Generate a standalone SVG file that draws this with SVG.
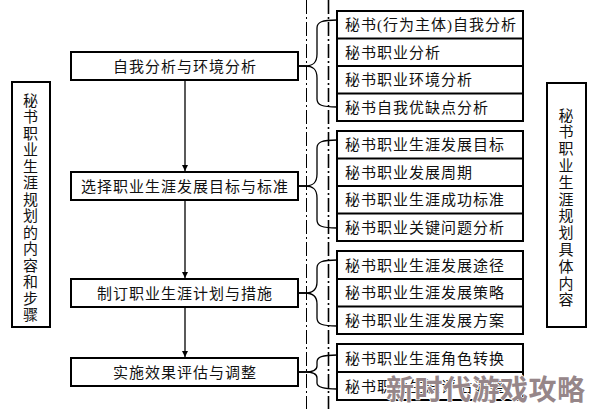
<svg xmlns="http://www.w3.org/2000/svg" width="594" height="409" viewBox="0 0 594 409">
<style>
.box{fill:#fff;stroke:#000;stroke-width:2}
.sep{stroke:#000;stroke-width:2}
.t{font-family:"Liberation Serif","Noto Sans CJK SC",serif;font-size:15px;fill:#111;letter-spacing:1px}
.c{text-anchor:middle}
.ln{fill:none;stroke:#000;stroke-width:1.3}
.dd{stroke:#000;fill:none;stroke-dasharray:14 3 2 3}
.wm{font-family:"Noto Sans CJK SC","DejaVu Sans",sans-serif;font-size:28px;font-weight:bold;fill:#968689;stroke:#fff;stroke-width:1.5;paint-order:stroke;letter-spacing:0.5px}
</style>
<defs>
<marker id="ah" viewBox="0 0 6 12" refX="6" refY="6" markerWidth="6" markerHeight="12" markerUnits="userSpaceOnUse" orient="auto">
<path d="M0,3 L6,6 L0,9 Z" fill="#000"/>
</marker>
</defs>
<rect width="594" height="409" fill="#fff"/>
<g id="guides">
<line class="dd" x1="306.5" y1="0" x2="306.5" y2="409" stroke-width="1"/>
<line class="dd" x1="328.5" y1="0" x2="328.5" y2="409" stroke-width="1.6"/>
</g>
<g id="connectors">
<line class="ln" x1="185" y1="80" x2="185" y2="171" marker-end="url(#ah)"/>
<line class="ln" x1="185" y1="200" x2="185" y2="278" marker-end="url(#ah)"/>
<line class="ln" x1="185" y1="307" x2="185" y2="357" marker-end="url(#ah)"/>
<path class="ln" d="M298,66 H305 C313,66 317,63 317,54 V28 C317,22 322,20 337,20"/>
<path class="ln" d="M298,66 H305 C313,66 317,69 317,78 V99 C317,105 322,107 337,107"/>
<path class="ln" d="M298,186 H305 C313,186 317,183 317,174 V148 C317,142 322,140 337,140"/>
<path class="ln" d="M298,186 H305 C313,186 317,189 317,198 V220 C317,226 322,228 337,228"/>
<path class="ln" d="M298,293 H305 C313,293 317,290 317,282 V268 C317,262 322,260 337,260"/>
<path class="ln" d="M298,293 H305 C313,293 317,296 317,304 V318 C317,324 322,326 337,326"/>
<path class="ln" d="M298,372 H305 C313,372 317,370 317,366 V362 C317,357 322,355 337,355"/>
<path class="ln" d="M298,372 H305 C313,372 317,374 317,378 V383 C317,387 322,389 337,389"/>
</g>
<g id="left-title">
<rect class="box" x="12" y="82" width="38" height="245"/>
<text class="t c" x="31" y="105.5"><tspan x="31">秘</tspan><tspan x="31" dy="16.5">书</tspan><tspan x="31" dy="16.5">职</tspan><tspan x="31" dy="16.5">业</tspan><tspan x="31" dy="16.5">生</tspan><tspan x="31" dy="16.5">涯</tspan><tspan x="31" dy="16.5">规</tspan><tspan x="31" dy="16.5">划</tspan><tspan x="31" dy="16.5">的</tspan><tspan x="31" dy="16.5">内</tspan><tspan x="31" dy="16.5">容</tspan><tspan x="31" dy="16.5">和</tspan><tspan x="31" dy="16.5">步</tspan><tspan x="31" dy="16.5">骤</tspan></text>
</g>
<g id="right-title">
<rect class="box" x="547" y="83" width="39" height="244"/>
<text class="t c" x="566.5" y="120.5"><tspan x="566.5">秘</tspan><tspan x="566.5" dy="16.8">书</tspan><tspan x="566.5" dy="16.8">职</tspan><tspan x="566.5" dy="16.8">业</tspan><tspan x="566.5" dy="16.8">生</tspan><tspan x="566.5" dy="16.8">涯</tspan><tspan x="566.5" dy="16.8">规</tspan><tspan x="566.5" dy="16.8">划</tspan><tspan x="566.5" dy="16.8">具</tspan><tspan x="566.5" dy="16.8">体</tspan><tspan x="566.5" dy="16.8">内</tspan><tspan x="566.5" dy="16.8">容</tspan></text>
</g>
<g id="step1">
<rect class="box" x="71" y="52" width="227" height="28"/>
<text class="t c" x="185" y="71.5">自我分析与环境分析</text>
</g>
<g id="step2">
<rect class="box" x="71" y="172" width="227" height="28"/>
<text class="t c" x="185" y="191.5">选择职业生涯发展目标与标准</text>
</g>
<g id="step3">
<rect class="box" x="71" y="279" width="227" height="28"/>
<text class="t c" x="185" y="298.5">制订职业生涯计划与措施</text>
</g>
<g id="step4">
<rect class="box" x="71" y="358" width="227" height="28"/>
<text class="t c" x="185" y="377.5">实施效果评估与调整</text>
</g>
<g id="group1">
<rect class="box" x="337" y="11" width="186" height="110"/>
<line class="sep" x1="337" y1="38.5" x2="523" y2="38.5"/>
<line class="sep" x1="337" y1="66" x2="523" y2="66"/>
<line class="sep" x1="337" y1="93.5" x2="523" y2="93.5"/>
<text class="t" x="345" y="30">秘书(行为主体)自我分析</text>
<text class="t" x="345" y="57.5">秘书职业分析</text>
<text class="t" x="345" y="85">秘书职业环境分析</text>
<text class="t" x="345" y="112.5">秘书自我优缺点分析</text>
</g>
<g id="group2">
<rect class="box" x="337" y="131" width="186" height="110"/>
<line class="sep" x1="337" y1="158.5" x2="523" y2="158.5"/>
<line class="sep" x1="337" y1="186" x2="523" y2="186"/>
<line class="sep" x1="337" y1="213.5" x2="523" y2="213.5"/>
<text class="t" x="345" y="150">秘书职业生涯发展目标</text>
<text class="t" x="345" y="177.5">秘书职业发展周期</text>
<text class="t" x="345" y="205">秘书职业生涯成功标准</text>
<text class="t" x="345" y="232.5">秘书职业关键问题分析</text>
</g>
<g id="group3">
<rect class="box" x="337" y="251" width="186" height="83"/>
<line class="sep" x1="337" y1="279" x2="523" y2="279"/>
<line class="sep" x1="337" y1="306.5" x2="523" y2="306.5"/>
<text class="t" x="345" y="270.5">秘书职业生涯发展途径</text>
<text class="t" x="345" y="298">秘书职业生涯发展策略</text>
<text class="t" x="345" y="325.5">秘书职业生涯发展方案</text>
</g>
<g id="group4">
<rect class="box" x="337" y="344" width="186" height="56"/>
<line class="sep" x1="337" y1="372" x2="523" y2="372"/>
<text class="t" x="345" y="363.5">秘书职业生涯角色转换</text>
<text class="t" x="345" y="391.5">秘书职业生涯评估调整</text>
</g>
<text class="wm" x="386" y="400">新时代游戏攻略</text>
</svg>
